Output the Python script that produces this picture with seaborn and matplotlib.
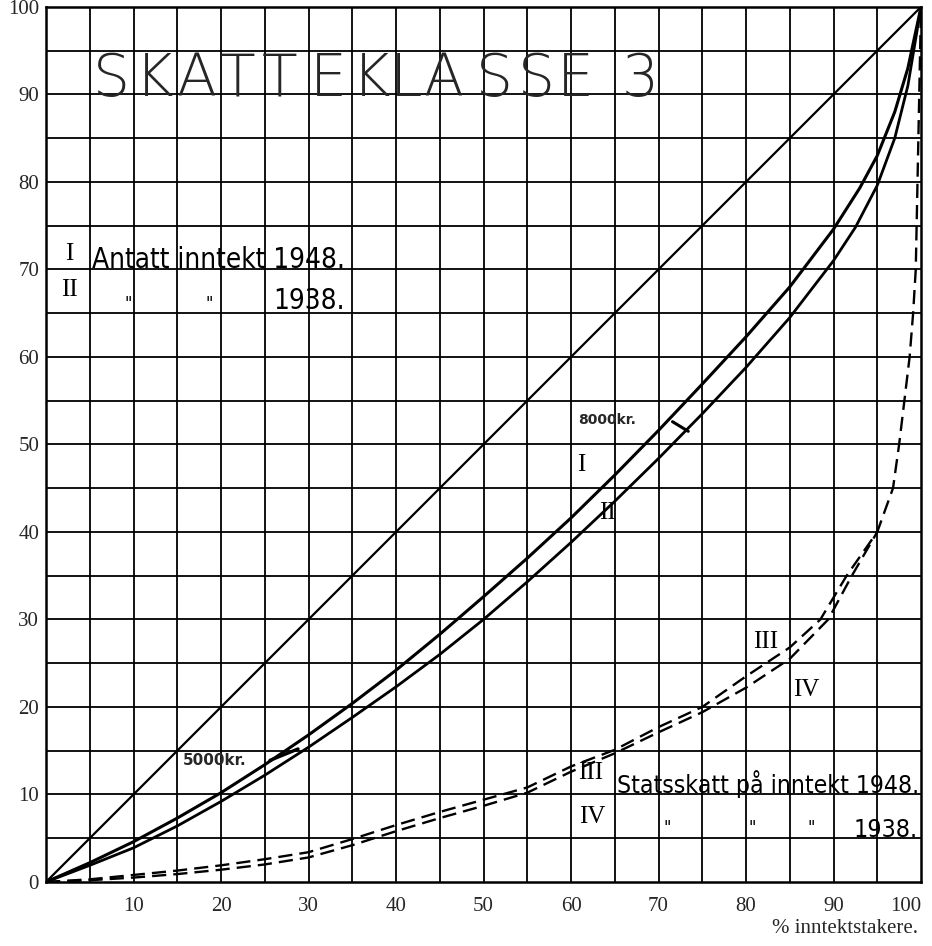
import pandas as pd
import matplotlib
matplotlib.use("Agg")
import matplotlib.pyplot as plt
import seaborn as sns

# % income earners (x) vs cumulative % (y)
x_I = [0, 5, 10, 15, 20, 25, 30, 35, 40, 45, 50, 55, 60, 65, 70, 75, 80, 85, 90, 93, 95, 97, 98.5, 100]
y_I = [0, 2.2, 4.6, 7.3, 10.2, 13.4, 16.8, 20.4, 24.2, 28.3, 32.6, 37.0, 41.6, 46.5, 51.6, 56.9, 62.3, 68.0, 74.6, 79.3, 83.0, 88.0, 93.0, 100]

x_II = [0, 5, 10, 15, 20, 25, 30, 35, 40, 45, 50, 55, 60, 65, 70, 75, 80, 85, 90, 92.5, 95, 97, 98.5, 100]
y_II = [0, 1.9, 3.9, 6.4, 9.2, 12.2, 15.4, 18.8, 22.3, 26.0, 30.0, 34.3, 38.8, 43.5, 48.4, 53.5, 58.8, 64.5, 71.0, 74.8, 79.6, 85.0, 91.0, 100]

x_III = [0, 5, 10, 15, 20, 25, 30, 35, 40, 45, 50, 55, 60, 65, 70, 75, 80, 85, 88.5, 91.5, 95,
         96.8, 97.5, 98.1, 98.7, 99.1, 99.4, 99.6, 99.8, 100]
y_III = [0, 0.3, 0.8, 1.3, 1.9, 2.6, 3.4, 4.9, 6.5, 8.0, 9.4, 10.8, 13.2, 15.1, 17.7, 20.0, 23.5, 26.8, 30, 35, 40,
         45, 50, 55, 60, 65, 70, 80, 90, 100]

x_IV = [0, 5, 10, 15, 20, 25, 30, 35, 40, 45, 50, 55, 60, 65, 70, 75, 80, 85, 89.4, 92.1, 95]
y_IV = [0, 0.2, 0.5, 0.9, 1.4, 2.0, 2.8, 4.2, 5.8, 7.3, 8.7, 10.2, 12.6, 14.7, 17.1, 19.4, 22.2, 25.5, 30, 35, 40]

x_diag = [0, 100]
y_diag = [0, 100]

xticks = [10, 20, 30, 40, 50, 60, 70, 80, 90, 100]
yticks = [0, 10, 20, 30, 40, 50, 60, 70, 80, 90, 100]

title_chars = list('SKATTEKLASSE3')
title_x = [5.3, 10.1, 14.9, 19.9, 24.7, 30.2, 34.9, 39.3, 43.1, 49.1, 53.9, 58.4, 65.8]

sns.set_style("white")
plt.rcParams['font.family'] = ['Liberation Serif', 'DejaVu Serif']

fig = plt.figure(figsize=(9.32, 9.46), dpi=100)
ax = fig.add_axes([0.0494, 0.0677, 0.9388, 0.925])

# grid every 5 units
for v in range(5, 100, 5):
    ax.axvline(v, color='black', lw=1.3, zorder=1)
    ax.axhline(v, color='black', lw=1.3, zorder=1)

sns.lineplot(x=x_diag, y=y_diag, color='black', lw=1.6, ax=ax, estimator=None, sort=False)
sns.lineplot(x=x_I, y=y_I, color='black', lw=2.2, ax=ax, estimator=None, sort=False)
sns.lineplot(x=x_II, y=y_II, color='black', lw=2.0, ax=ax, estimator=None, sort=False)
sns.lineplot(x=x_III, y=y_III, color='black', lw=1.7, ax=ax, estimator=None, sort=False)
sns.lineplot(x=x_IV, y=y_IV, color='black', lw=1.7, ax=ax, estimator=None, sort=False)
for ln in ax.lines[-2:]:
    ln.set_dashes((6, 3))

ax.set_xlim(0, 100)
ax.set_ylim(0, 100)
ax.set_xticks(xticks)
ax.set_yticks(yticks)
ax.tick_params(length=0, labelsize=15, pad=5)
ax.tick_params(axis='x', pad=11)
ax.get_xticklabels()[-1].set_horizontalalignment('right')
for s in ax.spines.values():
    s.set_color('black')
    s.set_linewidth(1.8)

hand = dict(family='DejaVu Sans', fontstretch='condensed', color='black')
rom = dict(family='Liberation Serif', color='black', fontsize=18)

for ch, xc in zip(title_chars, title_x):
    ax.text(xc, 89.8, ch, fontsize=42, va='baseline', family='DejaVu Sans', fontweight=200)

ax.text(2.7, 71.8, 'I', ha='center', va='center', **rom)
ax.text(2.7, 67.6, 'II', ha='center', va='center', **rom)
ax.text(5.3, 70.2, 'Antatt inntekt 1948.', fontsize=20, va='baseline', **hand)
ax.text(9.4, 66.0, '"', fontsize=13, ha='center', va='center', **hand)
ax.text(18.7, 66.0, '"', fontsize=13, ha='center', va='center', **hand)
ax.text(26.0, 65.5, '1938.', fontsize=20, va='baseline', **hand)

ax.text(60.8, 52.8, '8000kr.', fontsize=10, fontweight='bold', va='center', family='DejaVu Sans')
sns.lineplot(x=[71.6, 73.4], y=[52.6, 51.5], color='black', lw=2.2, ax=ax, estimator=None, sort=False)
ax.text(15.6, 13.9, '5000kr.', fontsize=11, fontweight='bold', va='center', family='DejaVu Sans')
sns.lineplot(x=[25.6, 28.8], y=[13.9, 15.2], color='black', lw=2.4, ax=ax, estimator=None, sort=False)

ax.text(61.2, 47.6, 'I', ha='center', va='center', **rom)
ax.text(64.2, 42.2, 'II', ha='center', va='center', **rom)
ax.text(82.2, 27.4, 'III', ha='center', va='center', **rom)
ax.text(86.9, 21.9, 'IV', ha='center', va='center', **rom)
ax.text(62.2, 12.5, 'III', ha='center', va='center', **rom)
ax.text(62.4, 7.4, 'IV', ha='center', va='center', **rom)

ax.text(65.2, 10.2, 'Statsskatt på inntekt 1948.', fontsize=17.7, va='baseline', **hand)
for xd in [71.0, 80.7, 87.5]:
    ax.text(xd, 6.2, '"', fontsize=13, ha='center', va='center', **hand)
ax.text(99.6, 5.1, '1938.', fontsize=18, ha='right', va='baseline', **hand)

fig.text(0.985, 0.008, '% inntektstakere.', ha='right', va='bottom', fontsize=15, family='Liberation Serif')

fig.savefig('out.png', dpi=100)
